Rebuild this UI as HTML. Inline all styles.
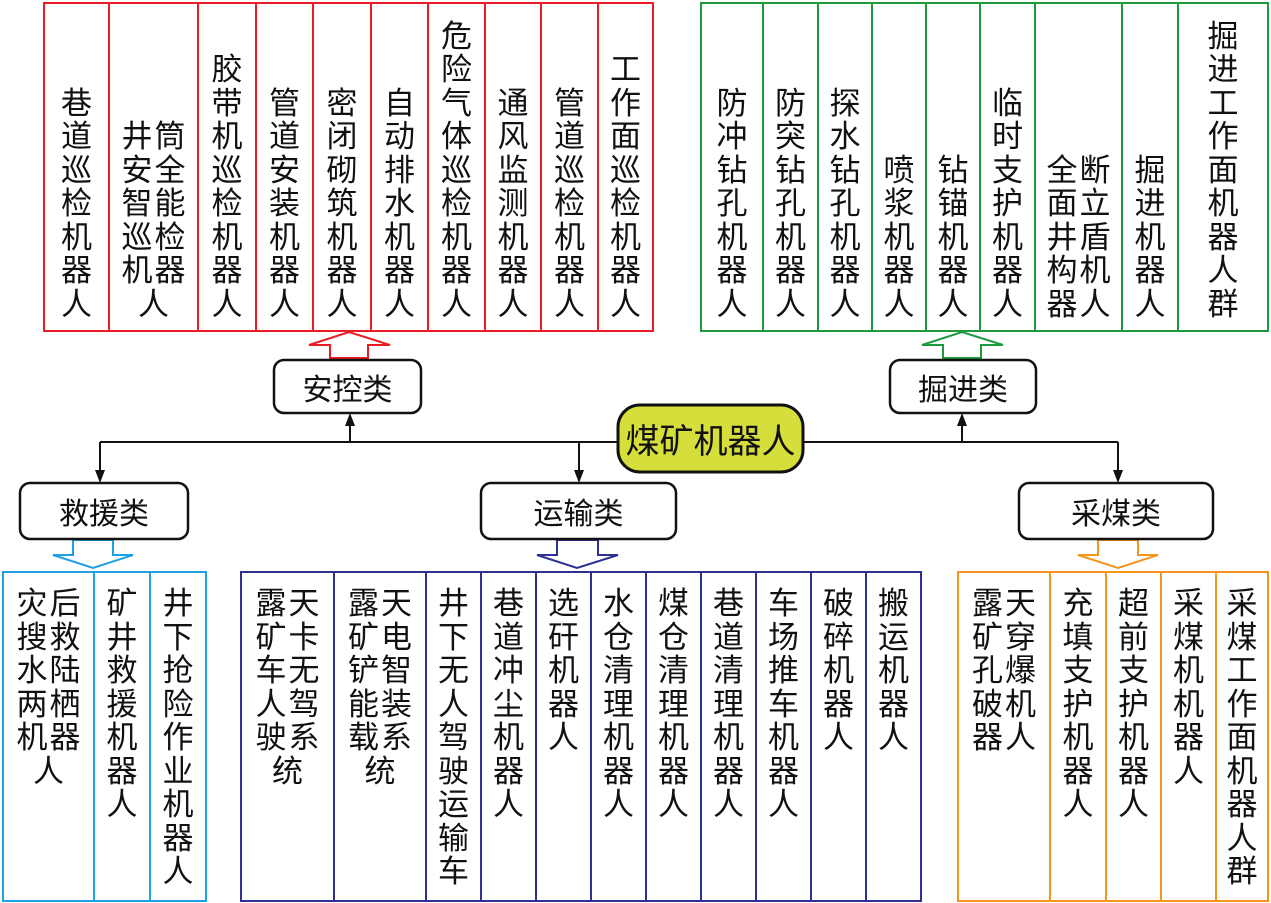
<!DOCTYPE html>
<html><head><meta charset="utf-8"><style>
body{margin:0;width:1271px;height:903px;background:#fff;position:relative;overflow:hidden;font-family:"Liberation Sans","Noto Sans CJK SC",sans-serif;color:#111}
.c{position:absolute;box-sizing:border-box;border:2px solid;display:flex;flex-direction:column;align-items:center}
.t{top:2px;height:330px;justify-content:flex-end;padding-bottom:9px}
.b{top:571px;height:331px;justify-content:flex-start;padding-top:14px}
.w{width:33px;text-align:center;font-size:31px;line-height:33.5px;word-break:break-all;flex-shrink:0}
.w2{width:74px;letter-spacing:2px;padding-left:2px;box-sizing:border-box}
.r{border-color:#ec1c24}.g{border-color:#1c9a3c}.cy{border-color:#1ea0e2}.bl{border-color:#2e3192}.o{border-color:#f7941d}
svg{position:absolute;left:0;top:0}
.lb{position:absolute;font-size:30px;text-align:center;display:flex;align-items:center;justify-content:center}
</style></head><body>
<svg width="1271" height="903">
<g fill="none" stroke="#111" stroke-width="2">
<line x1="100" y1="442" x2="1118" y2="442"/>
<line x1="350" y1="442" x2="350" y2="424"/><line x1="962" y1="442" x2="962" y2="424"/>
<line x1="100" y1="442" x2="100" y2="472"/><line x1="579" y1="442" x2="579" y2="472"/><line x1="1118" y1="442" x2="1118" y2="472"/>
</g>
<g fill="#111">
<polygon points="345,426 355,426 350,413"/><polygon points="957,426 967,426 962,413"/>
<polygon points="95,470 105,470 100,483"/><polygon points="574,470 584,470 579,483"/><polygon points="1113,470 1123,470 1118,483"/>
</g>
<g fill="#fff" stroke-width="2">
<polygon stroke="#ec1c24" points="330,358 368,358 368,345 390,345 349,332 309,345 330,345"/>
<polygon stroke="#1c9a3c" points="943,358 981,358 981,345 1003,345 962,332 922,345 943,345"/>
<polygon stroke="#2e3192" points="557,540 598,540 598,555 618,555 577,568 537,555 557,555"/>
<polygon stroke="#1ea0e2" points="73,540 113,540 113,555 133,555 93,568 53,555 73,555"/>
<polygon stroke="#f7941d" points="1098,540 1138,540 1138,555 1158,555 1118,568 1078,555 1098,555"/>
</g>
<g fill="#fff" stroke="#111" stroke-width="2.5">
<rect x="274" y="360" width="147" height="53" rx="10"/>
<rect x="890" y="360" width="146" height="53" rx="10"/>
<rect x="20" y="483" width="168" height="56" rx="10"/>
<rect x="481" y="483" width="195" height="56" rx="10"/>
<rect x="1019" y="483" width="194" height="56" rx="10"/>
</g>
<rect x="618" y="405" width="185" height="67" rx="22" fill="#d6de3c" stroke="#111" stroke-width="3"/>
</svg>
<div class="lb" style="left:274px;top:360px;width:147px;height:53px">安控类</div>
<div class="lb" style="left:890px;top:360px;width:146px;height:53px">掘进类</div>
<div class="lb" style="left:20px;top:483px;width:168px;height:56px">救援类</div>
<div class="lb" style="left:481px;top:483px;width:195px;height:56px">运输类</div>
<div class="lb" style="left:1019px;top:483px;width:194px;height:56px">采煤类</div>
<div class="lb" style="left:618px;top:405px;width:185px;height:67px;font-size:34px">煤矿机器人</div>

<div class="c t r" style="left:43px;width:67px"><div class="w">巷道巡检机器人</div></div>
<div class="c t r" style="left:108px;width:91px"><div class="w w2">井筒安全智能巡检机器人</div></div>
<div class="c t r" style="left:197px;width:60px"><div class="w">胶带机巡检机器人</div></div>
<div class="c t r" style="left:255px;width:59px"><div class="w">管道安装机器人</div></div>
<div class="c t r" style="left:312px;width:60px"><div class="w">密闭砌筑机器人</div></div>
<div class="c t r" style="left:370px;width:59px"><div class="w">自动排水机器人</div></div>
<div class="c t r" style="left:427px;width:59px"><div class="w">危险气体巡检机器人</div></div>
<div class="c t r" style="left:484px;width:58px"><div class="w">通风监测机器人</div></div>
<div class="c t r" style="left:540px;width:59px"><div class="w">管道巡检机器人</div></div>
<div class="c t r" style="left:597px;width:57px"><div class="w">工作面巡检机器人</div></div>

<div class="c t g" style="left:700px;width:64px"><div class="w">防冲钻孔机器人</div></div>
<div class="c t g" style="left:762px;width:57px"><div class="w">防突钻孔机器人</div></div>
<div class="c t g" style="left:817px;width:56px"><div class="w">探水钻孔机器人</div></div>
<div class="c t g" style="left:871px;width:56px"><div class="w">喷浆机器人</div></div>
<div class="c t g" style="left:925px;width:56px"><div class="w">钻锚机器人</div></div>
<div class="c t g" style="left:979px;width:57px"><div class="w">临时支护机器人</div></div>
<div class="c t g" style="left:1034px;width:89px"><div class="w w2">全断面立井盾构机器人</div></div>
<div class="c t g" style="left:1121px;width:58px"><div class="w">掘进机器人</div></div>
<div class="c t g" style="left:1177px;width:92px"><div class="w">掘进工作面机器人群</div></div>

<div class="c b cy" style="left:2px;width:93px"><div class="w w2">灾后搜救水陆两栖机器人</div></div>
<div class="c b cy" style="left:93px;width:58px"><div class="w">矿井救援机器人</div></div>
<div class="c b cy" style="left:149px;width:58px"><div class="w">井下抢险作业机器人</div></div>

<div class="c b bl" style="left:240px;width:95px"><div class="w w2">露天矿卡车无人驾驶系统</div></div>
<div class="c b bl" style="left:333px;width:94px"><div class="w w2">露天矿电铲智能装载系统</div></div>
<div class="c b bl" style="left:425px;width:57px"><div class="w">井下无人驾驶运输车</div></div>
<div class="c b bl" style="left:480px;width:57px"><div class="w">巷道冲尘机器人</div></div>
<div class="c b bl" style="left:535px;width:57px"><div class="w">选矸机器人</div></div>
<div class="c b bl" style="left:590px;width:57px"><div class="w">水仓清理机器人</div></div>
<div class="c b bl" style="left:645px;width:57px"><div class="w">煤仓清理机器人</div></div>
<div class="c b bl" style="left:700px;width:57px"><div class="w">巷道清理机器人</div></div>
<div class="c b bl" style="left:755px;width:57px"><div class="w">车场推车机器人</div></div>
<div class="c b bl" style="left:810px;width:57px"><div class="w">破碎机器人</div></div>
<div class="c b bl" style="left:865px;width:57px"><div class="w">搬运机器人</div></div>

<div class="c b o" style="left:957px;width:94px"><div class="w w2">露天矿穿孔爆破机器人</div></div>
<div class="c b o" style="left:1049px;width:58px"><div class="w">充填支护机器人</div></div>
<div class="c b o" style="left:1105px;width:57px"><div class="w">超前支护机器人</div></div>
<div class="c b o" style="left:1160px;width:57px"><div class="w">采煤机机器人</div></div>
<div class="c b o" style="left:1215px;width:54px"><div class="w">采煤工作面机器人群</div></div>
</body></html>
